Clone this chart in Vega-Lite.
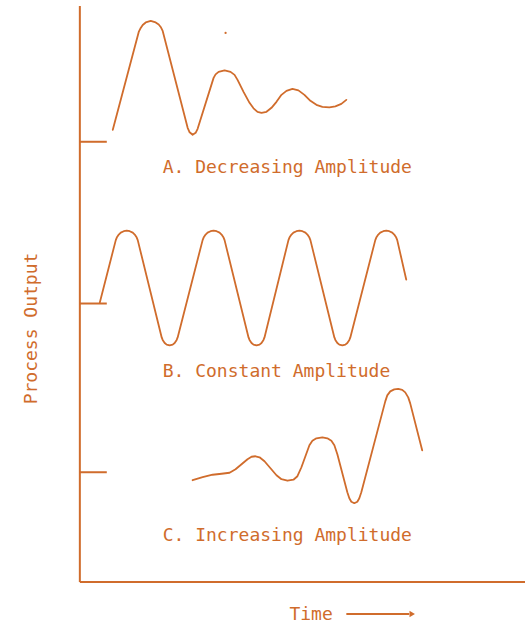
{
  "$schema": "https://vega.github.io/schema/vega-lite/v6.json",
  "width": 526,
  "height": 624,
  "autosize": {"type": "fit", "contains": "padding"},
  "padding": 0,
  "background": "white",
  "view": {"stroke": null},
  "datasets": {
    "curves": [
      {"series": "A", "t": 113, "v": 130}, {"series": "A", "t": 139, "v": 32}, {"series": "A", "t": 141, "v": 28},
      {"series": "A", "t": 143, "v": 25}, {"series": "A", "t": 146, "v": 22.5}, {"series": "A", "t": 151, "v": 21},
      {"series": "A", "t": 156, "v": 22.5}, {"series": "A", "t": 159, "v": 24.5}, {"series": "A", "t": 161, "v": 27},
      {"series": "A", "t": 163, "v": 31}, {"series": "A", "t": 188, "v": 128}, {"series": "A", "t": 190, "v": 132.5},
      {"series": "A", "t": 193, "v": 135}, {"series": "A", "t": 196, "v": 133}, {"series": "A", "t": 198, "v": 129},
      {"series": "A", "t": 214, "v": 78}, {"series": "A", "t": 216, "v": 74.5}, {"series": "A", "t": 219, "v": 72},
      {"series": "A", "t": 225, "v": 70.5}, {"series": "A", "t": 231, "v": 72}, {"series": "A", "t": 235, "v": 75},
      {"series": "A", "t": 238, "v": 80}, {"series": "A", "t": 244, "v": 92}, {"series": "A", "t": 250, "v": 103},
      {"series": "A", "t": 254, "v": 108.5}, {"series": "A", "t": 258, "v": 112}, {"series": "A", "t": 262, "v": 113},
      {"series": "A", "t": 267, "v": 112}, {"series": "A", "t": 272, "v": 108}, {"series": "A", "t": 277, "v": 102},
      {"series": "A", "t": 282, "v": 95}, {"series": "A", "t": 287, "v": 91}, {"series": "A", "t": 293, "v": 89},
      {"series": "A", "t": 299, "v": 90.5}, {"series": "A", "t": 305, "v": 95}, {"series": "A", "t": 311, "v": 101},
      {"series": "A", "t": 317, "v": 105}, {"series": "A", "t": 323, "v": 107}, {"series": "A", "t": 330, "v": 107.5},
      {"series": "A", "t": 336, "v": 106.5}, {"series": "A", "t": 342, "v": 104}, {"series": "A", "t": 347, "v": 100},

      {"series": "B", "t": 100, "v": 303},
      {"series": "B", "t": 116, "v": 240.5}, {"series": "B", "t": 117, "v": 238}, {"series": "B", "t": 119, "v": 235},
      {"series": "B", "t": 121, "v": 233}, {"series": "B", "t": 124, "v": 231.6}, {"series": "B", "t": 127, "v": 231},
      {"series": "B", "t": 130, "v": 231.6}, {"series": "B", "t": 133, "v": 233}, {"series": "B", "t": 135, "v": 235},
      {"series": "B", "t": 137, "v": 238}, {"series": "B", "t": 138, "v": 240.5},
      {"series": "B", "t": 162, "v": 338}, {"series": "B", "t": 163, "v": 340.5}, {"series": "B", "t": 165, "v": 343.5},
      {"series": "B", "t": 167, "v": 345.2}, {"series": "B", "t": 170, "v": 346}, {"series": "B", "t": 173, "v": 345.2},
      {"series": "B", "t": 175, "v": 343.5}, {"series": "B", "t": 177, "v": 340.5}, {"series": "B", "t": 178, "v": 338},
      {"series": "B", "t": 203, "v": 240.5}, {"series": "B", "t": 204, "v": 238}, {"series": "B", "t": 206, "v": 235},
      {"series": "B", "t": 208, "v": 233}, {"series": "B", "t": 211, "v": 231.6}, {"series": "B", "t": 214, "v": 231},
      {"series": "B", "t": 217, "v": 231.6}, {"series": "B", "t": 220, "v": 233}, {"series": "B", "t": 222, "v": 235},
      {"series": "B", "t": 224, "v": 238}, {"series": "B", "t": 225, "v": 240.5},
      {"series": "B", "t": 249, "v": 338}, {"series": "B", "t": 250, "v": 340.5}, {"series": "B", "t": 252, "v": 343.5},
      {"series": "B", "t": 254, "v": 345.2}, {"series": "B", "t": 257, "v": 346}, {"series": "B", "t": 260, "v": 345.2},
      {"series": "B", "t": 262, "v": 343.5}, {"series": "B", "t": 264, "v": 340.5}, {"series": "B", "t": 265, "v": 338},
      {"series": "B", "t": 289, "v": 240.5}, {"series": "B", "t": 290, "v": 238}, {"series": "B", "t": 292, "v": 235},
      {"series": "B", "t": 294, "v": 233}, {"series": "B", "t": 297, "v": 231.6}, {"series": "B", "t": 300, "v": 231},
      {"series": "B", "t": 303, "v": 231.6}, {"series": "B", "t": 306, "v": 233}, {"series": "B", "t": 308, "v": 235},
      {"series": "B", "t": 310, "v": 238}, {"series": "B", "t": 311, "v": 240.5},
      {"series": "B", "t": 335, "v": 338}, {"series": "B", "t": 336, "v": 340.5}, {"series": "B", "t": 338, "v": 343.5},
      {"series": "B", "t": 340, "v": 345.2}, {"series": "B", "t": 343, "v": 346}, {"series": "B", "t": 346, "v": 345.2},
      {"series": "B", "t": 348, "v": 343.5}, {"series": "B", "t": 350, "v": 340.5}, {"series": "B", "t": 351, "v": 338},
      {"series": "B", "t": 376, "v": 240.5}, {"series": "B", "t": 377, "v": 238}, {"series": "B", "t": 379, "v": 235},
      {"series": "B", "t": 381, "v": 233}, {"series": "B", "t": 384, "v": 231.6}, {"series": "B", "t": 387, "v": 231},
      {"series": "B", "t": 390, "v": 231.6}, {"series": "B", "t": 393, "v": 233}, {"series": "B", "t": 395, "v": 235},
      {"series": "B", "t": 397, "v": 238}, {"series": "B", "t": 398, "v": 240.5},
      {"series": "B", "t": 407, "v": 280},

      {"series": "C", "t": 193, "v": 481}, {"series": "C", "t": 203, "v": 478}, {"series": "C", "t": 213, "v": 475.5},
      {"series": "C", "t": 222, "v": 474.5}, {"series": "C", "t": 230, "v": 473.5}, {"series": "C", "t": 236, "v": 470},
      {"series": "C", "t": 242, "v": 465}, {"series": "C", "t": 248, "v": 460}, {"series": "C", "t": 252, "v": 457.5},
      {"series": "C", "t": 256, "v": 457}, {"series": "C", "t": 260, "v": 458}, {"series": "C", "t": 265, "v": 462},
      {"series": "C", "t": 271, "v": 469}, {"series": "C", "t": 277, "v": 476}, {"series": "C", "t": 282, "v": 480},
      {"series": "C", "t": 288, "v": 481.5}, {"series": "C", "t": 294, "v": 480.5}, {"series": "C", "t": 298, "v": 477},
      {"series": "C", "t": 302, "v": 468}, {"series": "C", "t": 306, "v": 457}, {"series": "C", "t": 310, "v": 446},
      {"series": "C", "t": 313, "v": 441.5}, {"series": "C", "t": 317, "v": 439}, {"series": "C", "t": 323, "v": 438},
      {"series": "C", "t": 328, "v": 439}, {"series": "C", "t": 332, "v": 441.5}, {"series": "C", "t": 335, "v": 446},
      {"series": "C", "t": 338, "v": 455}, {"series": "C", "t": 348, "v": 493}, {"series": "C", "t": 350, "v": 499},
      {"series": "C", "t": 352, "v": 502.5}, {"series": "C", "t": 355, "v": 504}, {"series": "C", "t": 358, "v": 502.5},
      {"series": "C", "t": 360, "v": 499}, {"series": "C", "t": 362, "v": 493}, {"series": "C", "t": 386, "v": 402},
      {"series": "C", "t": 388, "v": 396}, {"series": "C", "t": 391, "v": 392}, {"series": "C", "t": 395, "v": 390},
      {"series": "C", "t": 399, "v": 389.5}, {"series": "C", "t": 403, "v": 390.5}, {"series": "C", "t": 406, "v": 393},
      {"series": "C", "t": 409, "v": 398}, {"series": "C", "t": 411, "v": 404}, {"series": "C", "t": 423, "v": 451}
    ],
    "rules": [
      {"x": 80, "y": 6, "x2": 80, "y2": 583},
      {"x": 80, "y": 583, "x2": 526, "y2": 583},
      {"x": 80, "y": 142, "x2": 107, "y2": 142},
      {"x": 80, "y": 304, "x2": 107, "y2": 304},
      {"x": 80, "y": 473, "x2": 107, "y2": 473},
      {"x": 347, "y": 615, "x2": 410, "y2": 615}
    ],
    "labels": [
      {"x": 163, "y": 173, "text": "A. Decreasing Amplitude", "angle": 0},
      {"x": 163, "y": 378, "text": "B. Constant Amplitude", "angle": 0},
      {"x": 163, "y": 542, "text": "C. Increasing Amplitude", "angle": 0},
      {"x": 290, "y": 621, "text": "Time", "angle": 0},
      {"x": 37, "y": 405, "text": "Process Output", "angle": 270}
    ],
    "marks": [
      {"x": 413, "y": 615, "kind": "arrow"}
    ],
    "dots": [
      {"x": 226, "y": 33}
    ]
  },
  "layer": [
    {
      "data": {"name": "rules"},
      "mark": {"type": "rule", "color": "#d06c2c", "strokeWidth": 2},
      "encoding": {
        "x": {"field": "x", "type": "quantitative", "scale": {"domain": [0, 526], "nice": false, "zero": false}, "axis": null},
        "y": {"field": "y", "type": "quantitative", "scale": {"domain": [0, 624], "nice": false, "zero": false, "reverse": true}, "axis": null},
        "x2": {"field": "x2"},
        "y2": {"field": "y2"}
      }
    },
    {
      "data": {"name": "curves"},
      "mark": {"type": "line", "interpolate": "linear", "color": "#d06c2c", "strokeWidth": 1.8, "strokeJoin": "round", "strokeCap": "round"},
      "encoding": {
        "x": {"field": "t", "type": "quantitative", "axis": null},
        "y": {"field": "v", "type": "quantitative", "axis": null},
        "detail": {"field": "series"}
      }
    },
    {
      "data": {"name": "marks"},
      "mark": {"type": "point", "shape": "triangle-right", "filled": true, "color": "#d06c2c", "size": 40, "opacity": 1},
      "encoding": {
        "x": {"field": "x", "type": "quantitative", "axis": null},
        "y": {"field": "y", "type": "quantitative", "axis": null}
      }
    },
    {
      "data": {"name": "dots"},
      "mark": {"type": "point", "shape": "circle", "filled": true, "color": "#d06c2c", "size": 5, "opacity": 1},
      "encoding": {
        "x": {"field": "x", "type": "quantitative", "axis": null},
        "y": {"field": "y", "type": "quantitative", "axis": null}
      }
    },
    {
      "data": {"name": "labels"},
      "mark": {"type": "text", "align": "left", "baseline": "alphabetic", "font": "DejaVu Sans Mono", "fontSize": 18, "color": "#d06c2c"},
      "encoding": {
        "x": {"field": "x", "type": "quantitative", "axis": null},
        "y": {"field": "y", "type": "quantitative", "axis": null},
        "text": {"field": "text"},
        "angle": {"field": "angle", "type": "quantitative", "scale": null}
      }
    }
  ]
}
